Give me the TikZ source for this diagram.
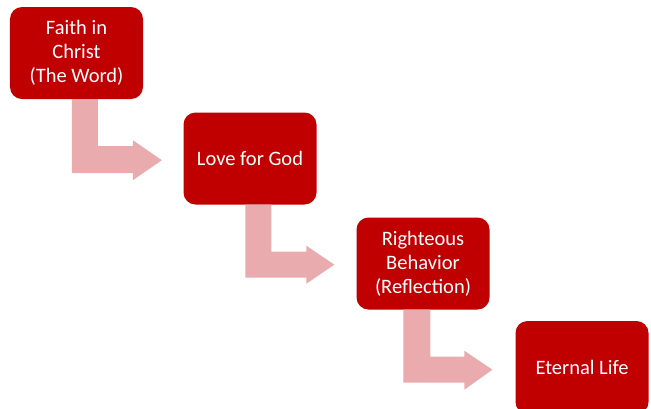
\documentclass[tikz,border=0pt]{standalone}
\usepackage{fontspec}
\setmainfont{Carlito}
\definecolor{boxred}{RGB}{192,0,0}
\definecolor{arrpink}{RGB}{233,171,173}
\begin{document}
\begin{tikzpicture}[x=1bp,y=-1bp,
  stepbox/.style={fill=boxred, rounded corners=12bp, minimum width=133bp, minimum height=92bp,
    text=white, align=center, inner sep=0pt, font=\fontsize{20.5bp}{23.8bp}\selectfont},
  arr/.style={fill=arrpink, draw=none}]
\useasboundingbox (0,0) rectangle (651,408);
\clip (0,0) rectangle (651,408);
\node[stepbox] (b1) at (76.5,53) {Faith in\\Christ\\(The Word)};
\node[stepbox] (b2) at (250,158.5) {Love for God};
\node[stepbox] (b3) at (423,263.5) {Righteous\\Behavior\\(Reflection)};
\node[stepbox, minimum height=93bp] (b4) at (582,367.5) {Eternal Life};
\fill[arr] ([xshift=62bp]b1.south west) -- ++(26,0) -- ++(0,47) -- ++(35,0) -- ++(0,-6) -- ++(29,20) -- ++(-29,20) -- ++(0,-7) -- ++(-61,0) -- cycle;
\fill[arr] ([xshift=62bp]b2.south west) -- ++(26,0) -- ++(0,47) -- ++(35,0) -- ++(0,-6) -- ++(28,19) -- ++(-28,19) -- ++(0,-6) -- ++(-61,0) -- cycle;
\fill[arr] ([xshift=47bp]b3.south west) -- ++(27,0) -- ++(0,47) -- ++(34,0) -- ++(0,-6) -- ++(28,19) -- ++(-28,20) -- ++(0,-7) -- ++(-61,0) -- cycle;
\end{tikzpicture}
\end{document}
